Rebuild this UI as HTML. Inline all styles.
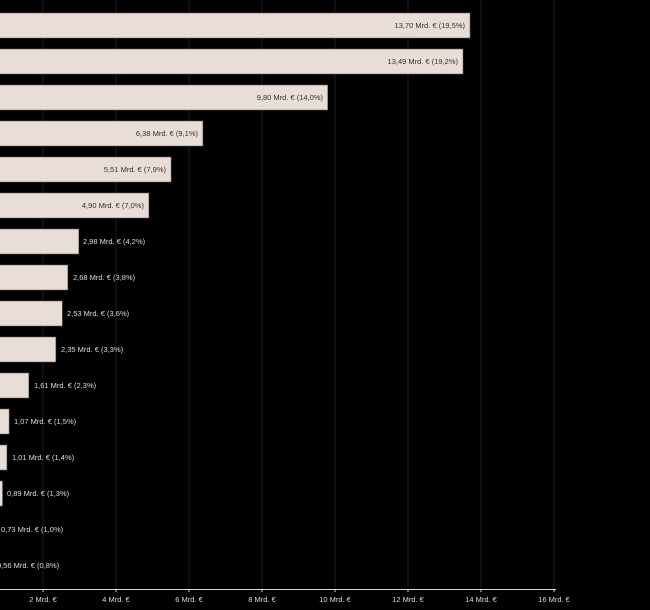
<!DOCTYPE html>
<html><head><meta charset="utf-8"><style>
html,body{margin:0;padding:0;background:#000;}
svg{display:block;}
text{font-family:"Liberation Sans",sans-serif;font-size:7.5px;}
</style></head><body>
<svg width="650" height="610" xmlns="http://www.w3.org/2000/svg">
<rect width="650" height="610" fill="#000"/>
<g stroke="#1c1c1c" stroke-width="1">
<line x1="43" y1="0" x2="43" y2="589"/><line x1="116" y1="0" x2="116" y2="589"/>
<line x1="189" y1="0" x2="189" y2="589"/><line x1="262" y1="0" x2="262" y2="589"/>
<line x1="335" y1="0" x2="335" y2="589"/><line x1="408" y1="0" x2="408" y2="589"/>
<line x1="481" y1="0" x2="481" y2="589"/><line x1="554" y1="0" x2="554" y2="589"/>
</g>
<line x1="0" y1="589.5" x2="556" y2="589.5" stroke="#ddd" stroke-width="1"/>
<g stroke="#ddd"><line x1="43" y1="589" x2="43" y2="592"/><line x1="116" y1="589" x2="116" y2="592"/><line x1="189" y1="589" x2="189" y2="592"/><line x1="262" y1="589" x2="262" y2="592"/><line x1="335" y1="589" x2="335" y2="592"/><line x1="408" y1="589" x2="408" y2="592"/><line x1="481" y1="589" x2="481" y2="592"/><line x1="554" y1="589" x2="554" y2="592"/></g>
<g fill="#ddd" text-anchor="middle">
<text x="43" y="602">2 Mrd. €</text><text x="116" y="602">4 Mrd. €</text><text x="189" y="602">6 Mrd. €</text><text x="262" y="602">8 Mrd. €</text><text x="335" y="602">10 Mrd. €</text><text x="408" y="602">12 Mrd. €</text><text x="481" y="602">14 Mrd. €</text><text x="554" y="602">16 Mrd. €</text>
</g>
<g fill="#e9ddd7" stroke="#6a605c" stroke-width="0.6">
<rect x="-40" y="13" width="510" height="25"/>
<rect x="-40" y="49" width="503" height="25"/>
<rect x="-40" y="85" width="367.7" height="25"/>
<rect x="-40" y="121" width="242.9" height="25"/>
<rect x="-40" y="157" width="211.1" height="25"/>
<rect x="-40" y="193" width="188.9" height="25"/>
<rect x="-40" y="229" width="118.8" height="25"/>
<rect x="-40" y="265" width="107.8" height="25"/>
<rect x="-40" y="301" width="102.3" height="25"/>
<rect x="-40" y="337" width="95.8" height="25"/>
<rect x="-40" y="373" width="68.8" height="25"/>
<rect x="-40" y="409" width="49.1" height="25"/>
<rect x="-40" y="445" width="46.9" height="25"/>
<rect x="-40" y="481" width="42.5" height="25"/>
</g>
<g fill="#333" text-anchor="end">
<text x="465" y="28">13,70 Mrd. € (19,5%)</text>
<text x="458" y="64">13,49 Mrd. € (19,2%)</text>
<text x="323" y="100">9,80 Mrd. € (14,0%)</text>
<text x="198" y="136">6,38 Mrd. € (9,1%)</text>
<text x="166" y="172">5,51 Mrd. € (7,9%)</text>
<text x="144" y="208">4,90 Mrd. € (7,0%)</text>
</g>
<g fill="#ddd">
<text x="83" y="244">2,98 Mrd. € (4,2%)</text>
<text x="73" y="280">2,68 Mrd. € (3,8%)</text>
<text x="67" y="316">2,53 Mrd. € (3,6%)</text>
<text x="61" y="352">2,35 Mrd. € (3,3%)</text>
<text x="34" y="388">1,61 Mrd. € (2,3%)</text>
<text x="14" y="424">1,07 Mrd. € (1,5%)</text>
<text x="12" y="460">1,01 Mrd. € (1,4%)</text>
<text x="7" y="496">0,89 Mrd. € (1,3%)</text>
<text x="1" y="532">0,73 Mrd. € (1,0%)</text>
<text x="-3" y="568">0,56 Mrd. € (0,8%)</text>
</g>
</svg>
</body></html>
